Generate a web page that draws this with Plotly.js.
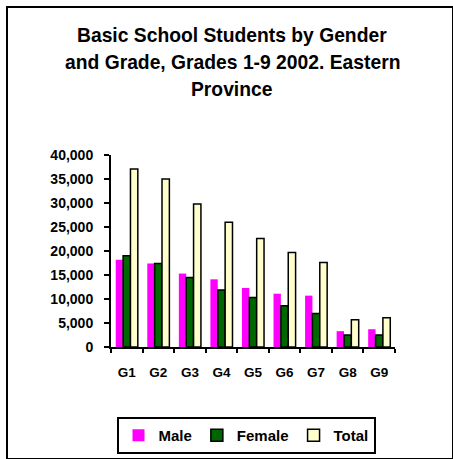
<!DOCTYPE html>
<html>
<head>
<meta charset="utf-8">
<script src="https://cdn.plot.ly/plotly-3.0.1.min.js"></script>
<style>
  html, body { margin: 0; padding: 0; background: #fff; }
  #chart { width: 453px; height: 459px; position: absolute; left: 0; top: 0; }
  #frame { position: absolute; left: 6px; top: 6px; width: 444px; height: 450px; border: 2px solid #000; pointer-events: none; }
</style>
</head>
<body>
<div id="chart"></div>
<div id="frame"></div>
<script>
const grades = ["G1", "G2", "G3", "G4", "G5", "G6", "G7", "G8", "G9"];
const male   = [18200, 17400, 15300, 14100, 12300, 11100, 10700, 3300, 3700];
const female = [19000, 17400, 14500, 11900, 10300, 8600, 7000, 2500, 2500];
const total  = [37100, 35000, 29800, 26000, 22600, 19700, 17600, 5700, 6100];
const titleLines = ["Basic School Students by Gender", "and Grade, Grades 1-9 2002. Eastern", "Province"];

const boldFont = { family: "Liberation Sans, Arial, sans-serif", color: "#000", weight: "bold" };

const traces = [
  { type: "bar", name: "Male", x: grades, y: male,
    marker: { color: "#FF00FF", line: { width: 0 } } },
  { type: "bar", name: "Female", x: grades, y: female,
    marker: { color: "#006600", line: { color: "#000", width: 1.5 } } },
  { type: "bar", name: "Total", x: grades, y: total,
    marker: { color: "#FFFFCC", line: { color: "#000", width: 1.5 } } }
];

// plot area: x 111..395, y 155..347 (px)
const PL = 111, PR = 395, PT = 155, PB = 347;
const toPx = (py) => (PB - py) / (PB - PT);
const titleY = [35.5, 62.5, 89.5];
const annotations = titleLines.map((t, i) => ({
  text: t, xref: "paper", yref: "paper",
  x: (232 - PL) / (PR - PL), y: toPx(titleY[i]),
  xanchor: "center", yanchor: "middle", showarrow: false,
  font: Object.assign({}, boldFont, { size: 19.3 })
}));

const layout = {
  width: 453, height: 459,
  margin: { l: PL, r: 453 - PR, t: PT, b: 459 - PB, autoexpand: false },
  paper_bgcolor: "#fff", plot_bgcolor: "#fff",
  font: Object.assign({ size: 13 }, boldFont),
  annotations: annotations,
  barmode: "group", bargap: 0.3, bargroupgap: 0,
  showlegend: true,
  legend: {
    orientation: "h", x: (246 - PL) / (PR - PL), xanchor: "center",
    y: toPx(454), yanchor: "bottom",
    bordercolor: "#000", borderwidth: 2, bgcolor: "#fff",
    font: Object.assign({}, boldFont, { size: 15 }),
    itemwidth: 30, tracegroupgap: 0
  },
  xaxis: {
    type: "category", tickson: "boundaries", ticks: "outside", ticklen: 4, tickwidth: 2,
    tickcolor: "#000", showline: true, linecolor: "#000", linewidth: 2,
    showgrid: false, zeroline: false, ticklabelstandoff: 12,
    tickfont: Object.assign({}, boldFont, { size: 13.5 })
  },
  yaxis: {
    range: [0, 40000], dtick: 5000, tickformat: ",d",
    ticks: "outside", ticklen: 5, tickwidth: 2, tickcolor: "#000",
    showline: true, linecolor: "#000", linewidth: 2,
    showgrid: false, zeroline: false, ticklabelstandoff: 8,
    tickfont: Object.assign({}, boldFont, { size: 14 })
  }
};

Plotly.newPlot("chart", traces, layout, { displayModeBar: false, staticPlot: true });
</script>
</body>
</html>
